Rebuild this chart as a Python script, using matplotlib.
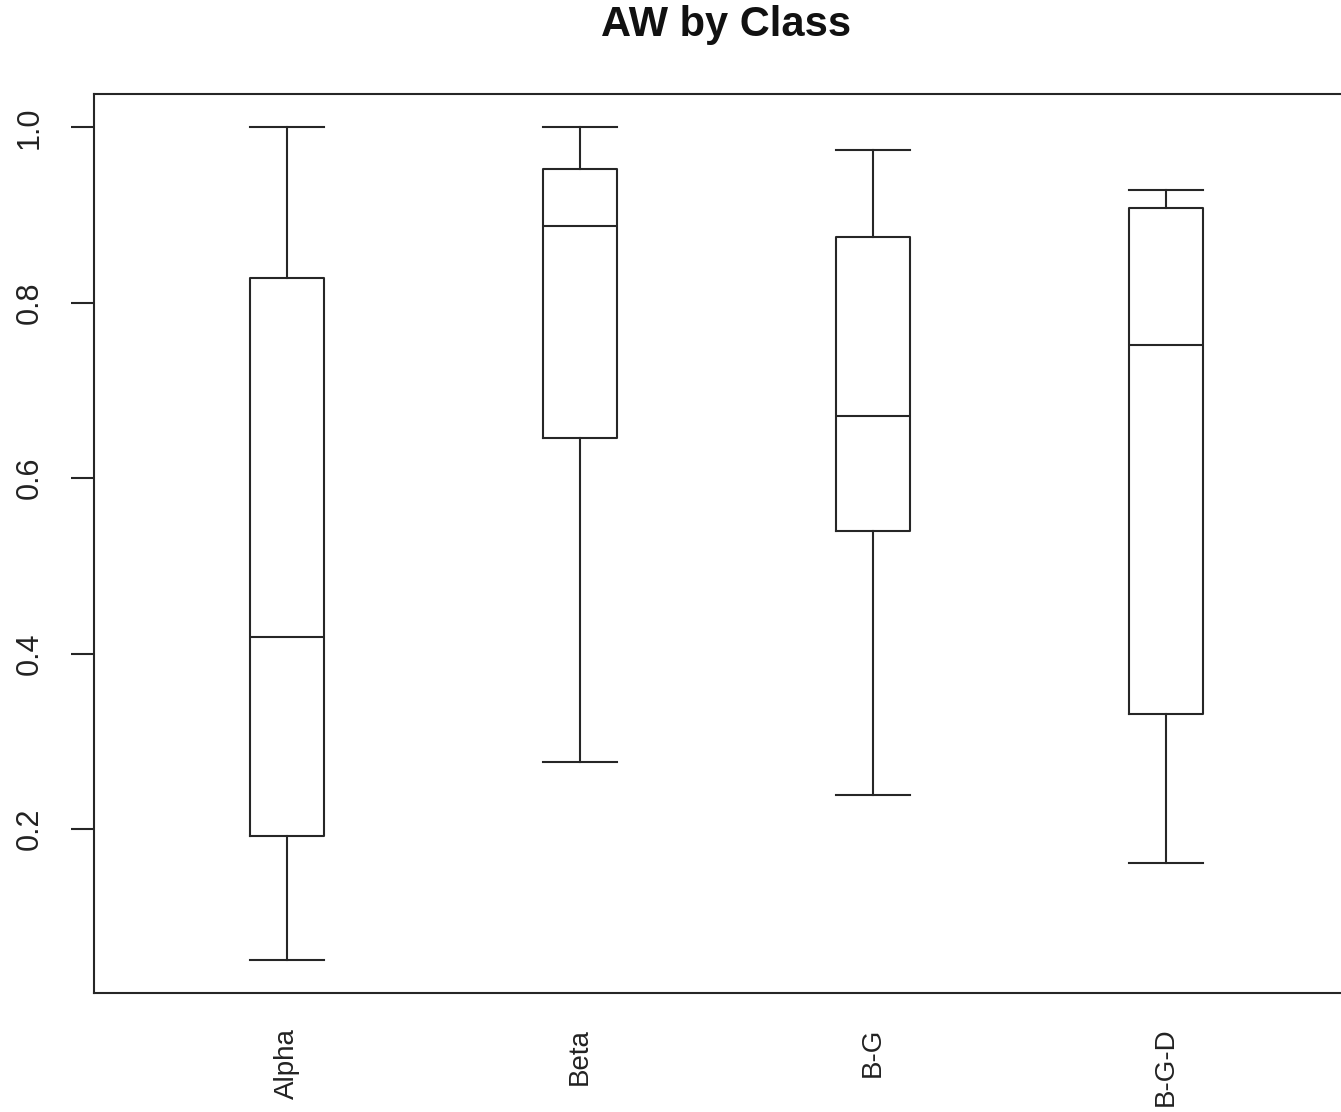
import matplotlib.pyplot as plt

plt.rcParams['font.family'] = ['Liberation Sans', 'DejaVu Sans']

# Box statistics
classes = ['Alpha', 'Beta', 'B-G', 'B-G-D']
whisker_low = [0.051, 0.276, 0.239, 0.161]
q1 = [0.192, 0.646, 0.540, 0.331]
median = [0.419, 0.887, 0.671, 0.752]
q3 = [0.828, 0.953, 0.875, 0.908]
whisker_high = [1.000, 1.000, 0.974, 0.928]

stats = []
for i, name in enumerate(classes):
    stats.append({'label': name, 'whislo': whisker_low[i], 'q1': q1[i], 'med': median[i],
                  'q3': q3[i], 'whishi': whisker_high[i], 'fliers': []})

fig = plt.figure(figsize=(13.41, 11.12), dpi=100)
ax = fig.add_axes([94 / 1341, 1 - 993 / 1112, 1265 / 1341, 899 / 1112])

col = '#262626'
lw = 1.5
ax.bxp(stats, positions=[1, 2, 3, 4], widths=0.25, capwidths=0.25, showfliers=False,
       boxprops=dict(color=col, linewidth=lw),
       medianprops=dict(color=col, linewidth=lw),
       whiskerprops=dict(color=col, linewidth=lw),
       capprops=dict(color=col, linewidth=lw))

ax.set_xlim(0.341, 4.659)
ax.set_ylim(0.013, 1.038)
ax.set_yticks([0.2, 0.4, 0.6, 0.8, 1.0])
ax.set_yticklabels(['0.2', '0.4', '0.6', '0.8', '1.0'], rotation=90, va='center', fontsize=22)
ax.tick_params(axis='y', length=16.5, width=lw, color=col, pad=19, labelcolor='#222222')
ax.set_xticks([1, 2, 3, 4])
ax.set_xticklabels(classes, rotation=90, ha='center', va='top', fontsize=20)
ax.tick_params(axis='x', length=0, pad=25, labelcolor='#222222')

for s in ax.spines.values():
    s.set_linewidth(lw)
    s.set_color(col)

fig.text((94 + 1359) / 2 / 1341, 1 - 25 / 1112, 'AW by Class', ha='center', va='center',
         fontsize=30, fontweight='bold', color='#111111')

fig.savefig('out.png', dpi=100)
